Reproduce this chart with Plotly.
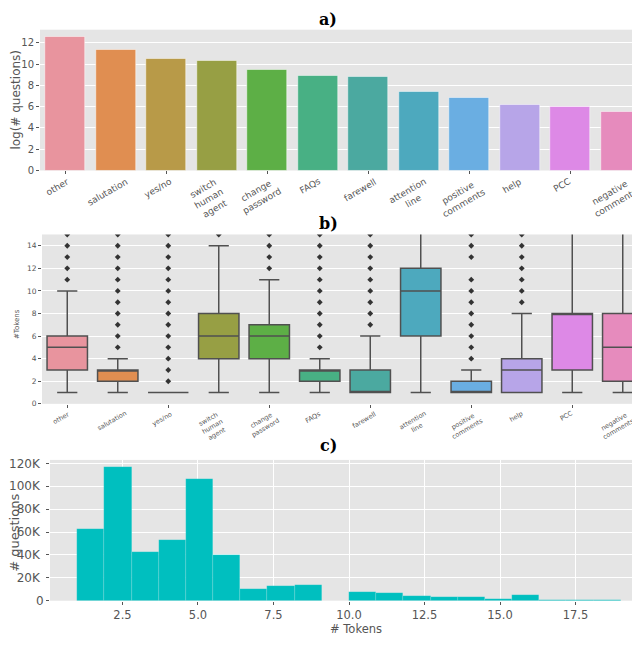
import plotly.graph_objects as go

# categories shared by panels a) and b)
categories = ["other", "salutation", "yes/no", "switch<br>human<br>agent", "change<br>password",
              "FAQs", "farewell", "attention<br>line", "positive<br>comments", "help", "PCC",
              "negative<br>comments"]
palette = ["#E8949E", "#E08E51", "#B89A48", "#979F44", "#5DAF46", "#48B084",
           "#4BA9A0", "#4DA9BE", "#6AAEE2", "#B7A5E8", "#DD89E6", "#E68BBD"]

# a) log(# questions) per category
log_questions = [12.62, 11.35, 10.48, 10.33, 9.46, 8.93, 8.84, 7.38, 6.82, 6.23, 5.98, 5.49]

# b) #tokens box statistics per category
box_low = [1, 1, 1, 1, 1, 1, 1, 1, 1, 1, 1, 1]
box_q1 = [3, 2, 1, 4, 4, 2, 1, 6, 1, 1, 3, 2]
box_median = [5, 3, 1, 6, 6, 3, 1, 10, 1, 3, 8, 5]
box_q3 = [6, 3, 1, 8, 7, 3, 3, 12, 2, 4, 8, 8]
box_high = [10, 4, 1, 14, 11, 4, 6, 20, 3, 8, 20, 20]
box_outliers = [
    [11, 12, 13, 14, 15],
    [5, 6, 7, 8, 9, 10, 11, 12, 13, 14, 15],
    [2, 3, 4, 5, 6, 7, 8, 9, 10, 11, 12, 13, 14, 15],
    [15],
    [12, 13, 14, 15],
    [5, 6, 7, 8, 9, 10, 11, 12, 13, 14, 15],
    [7, 8, 9, 10, 11, 12, 13, 14, 15],
    [],
    [4, 5, 6, 7, 8, 9, 10, 11, 13, 14, 15],
    [9, 10, 11, 12, 13, 14, 15],
    [],
    [],
]

# c) histogram of #tokens (20 bins of width 0.9 starting at 1)
hist_start = 1.0
hist_width = 0.9
hist_counts = [62700, 117000, 42600, 53000, 106000, 40000, 10700, 13000, 13800, 0,
               7600, 6500, 4500, 3700, 3700, 1700, 4800, 1100, 850, 600]
hist_yticks = [0, 20000, 40000, 60000, 80000, 100000, 120000]
hist_yticklabels = ["0", "20K ", "40K ", "60K ", "80K ", "100K ", "120K "]

W, H = 640, 645
GRAY = "#555555"
FONT = "DejaVu Sans"


def xdom(x0, x1):
    return [x0 / W, x1 / W]


def ydom(top, bottom):
    return [1 - bottom / H, 1 - top / H]


def tfont(size):
    return dict(color=GRAY, family=FONT, size=size)


fig = go.Figure()

# ---- a) bars
fig.add_trace(go.Bar(
    x=list(range(len(categories))), y=log_questions, width=0.8,
    marker=dict(color=palette, line=dict(color="white", width=0.5)),
    xaxis="x", yaxis="y", showlegend=False,
))

# ---- b) boxes
for i, cat in enumerate(categories):
    fig.add_trace(go.Box(
        x=[i], q1=[box_q1[i]], median=[box_median[i]], q3=[box_q3[i]],
        lowerfence=[box_low[i]], upperfence=[box_high[i]],
        width=0.8, whiskerwidth=0.5, fillcolor=palette[i],
        line=dict(color="#505050", width=1.5), boxpoints=False,
        xaxis="x2", yaxis="y2", showlegend=False,
    ))
    if box_outliers[i]:
        fig.add_trace(go.Scatter(
            x=[i] * len(box_outliers[i]), y=box_outliers[i], mode="markers",
            marker=dict(symbol="diamond", size=4.5, color="#333333"),
            xaxis="x2", yaxis="y2", showlegend=False,
        ))

# ---- c) histogram
centers = [hist_start + hist_width * (k + 0.5) for k in range(len(hist_counts))]
fig.add_trace(go.Bar(
    x=centers, y=hist_counts, width=hist_width,
    marker=dict(color="#00BFBF", line=dict(color="rgba(255,255,255,0.25)", width=0.5)),
    xaxis="x3", yaxis="y3", showlegend=False,
))

tick_style = dict(showline=False, zeroline=False, ticks="outside", ticklen=3, tickcolor=GRAY)

fig.update_layout(
    width=W, height=H, margin=dict(l=0, r=0, t=0, b=0),
    paper_bgcolor="white", plot_bgcolor="#E5E5E5", bargap=0,
    font=dict(family=FONT, color=GRAY),
    xaxis=dict(domain=xdom(32, 638), anchor="y", range=[-0.5, 11.5], showticklabels=False,
               showgrid=False, **tick_style),
    yaxis=dict(domain=ydom(19, 162), anchor="x", range=[0, 13.25], dtick=2,
               gridcolor="white", tickfont=tfont(10), **tick_style),
    xaxis2=dict(domain=xdom(34, 640), anchor="y2", range=[-0.5, 11.5], showticklabels=False,
                showgrid=False, **tick_style),
    yaxis2=dict(domain=ydom(227, 399), anchor="x2", range=[0, 15], dtick=2,
                gridcolor="white", tickfont=tfont(7.5), **tick_style),
    xaxis3=dict(domain=xdom(42, 640), anchor="y3", range=[0.1, 19.9], tick0=0, dtick=2.5,
                tickformat=".1f", gridcolor="white", tickfont=tfont(11.5), **tick_style),
    yaxis3=dict(domain=ydom(456, 599), anchor="x3", range=[0, 123000],
                tickvals=hist_yticks, ticktext=hist_yticklabels,
                gridcolor="white", tickfont=tfont(12), **tick_style),
)

ann = []
# category labels, rotated and centred under each tick
for i, cat in enumerate(categories):
    ann.append(dict(x=i, xref="x", y=0, yref="y domain", yshift=-3, xshift=-8, text=cat,
                    showarrow=False, textangle=-30, xanchor="center", yanchor="top",
                    align="center", font=tfont(9)))
    ann.append(dict(x=i, xref="x2", y=0, yref="y2 domain", yshift=-3, xshift=-6, text=cat,
                    showarrow=False, textangle=-30, xanchor="center", yanchor="top",
                    align="center", font=tfont(6.5)))

# panel titles
for label, ypix in [("a)", 9), ("b)", 216), ("c)", 441)]:
    ann.append(dict(x=0.5, xref="paper", y=1 - ypix / H, yref="paper", text="<b>" + label + "</b>",
                    showarrow=False, xanchor="center", yanchor="middle",
                    font=dict(size=16, color="black", family="DejaVu Serif")))

# axis titles
axis_titles = [
    ("log(# questions)", 8, 90, -90, 12),
    ("#Tokens", 9, 318, -90, 7),
    ("# questions", 7, 530, -90, 13),
    ("# Tokens", 348, 628, 0, 11.5),
]
for text, xp, yp, angle, size in axis_titles:
    ann.append(dict(x=xp / W, y=1 - yp / H, xref="paper", yref="paper", text=text,
                    textangle=angle, showarrow=False, xanchor="center", yanchor="middle",
                    font=tfont(size)))

fig.update_layout(annotations=ann)
fig.write_html("out.html")
